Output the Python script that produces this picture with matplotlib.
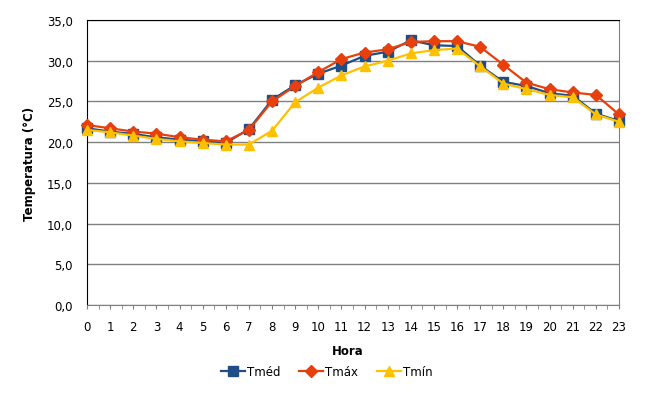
import matplotlib
matplotlib.use('Agg')
import matplotlib.pyplot as plt
from matplotlib.ticker import MultipleLocator, FuncFormatter

horas = list(range(24))
t_med = [21.7, 21.3, 21.0, 20.6, 20.3, 20.1, 19.9, 21.6, 25.2, 27.0, 28.4, 29.4,
         30.6, 31.1, 32.5, 31.9, 31.8, 29.4, 27.4, 26.9, 26.0, 25.7, 23.5, 22.6]
t_max = [22.1, 21.7, 21.3, 21.05, 20.6, 20.3, 20.1, 21.5, 25.0, 26.9, 28.6, 30.2,
         31.0, 31.4, 32.3, 32.4, 32.4, 31.7, 29.5, 27.3, 26.5, 26.1, 25.8, 23.4]
t_min = [21.5, 21.2, 20.8, 20.4, 20.1, 19.9, 19.7, 19.7, 21.4, 24.9, 26.7, 28.2,
         29.3, 30.0, 30.9, 31.3, 31.5, 29.3, 27.2, 26.5, 25.8, 25.5, 23.4, 22.5]

fig = plt.figure(figsize=(6.64, 4.02), dpi=100)
fig.patch.set_facecolor('white')
ax = fig.add_axes([87 / 664, (402 - 306) / 402, (619 - 87) / 664, (306 - 21) / 402])

ax.plot(horas, t_med, color='#1f4e87', marker='s', markersize=6.5, linewidth=1.6, label='Tméd', clip_on=False, zorder=3)
ax.plot(horas, t_max, color='#e8400c', marker='D', markersize=6, linewidth=1.6, label='Tmáx', clip_on=False, zorder=4)
ax.plot(horas, t_min, color='#ffc000', marker='^', markersize=7, linewidth=1.6, label='Tmín', clip_on=False, zorder=5)

ax.set_xlim(0, 23)
ax.set_ylim(0, 35)
ax.set_xticks(horas)
ax.xaxis.set_minor_locator(MultipleLocator(0.5))
ax.yaxis.set_major_locator(MultipleLocator(5))
ax.yaxis.set_major_formatter(FuncFormatter(lambda v, p: f'{v:.1f}'.replace('.', ',')))
ax.tick_params(axis='x', which='both', direction='out', length=3, color='#808080', labelsize=8.5, pad=8)
ax.tick_params(axis='y', length=0, labelsize=8.5, pad=10)
ax.grid(axis='y', color='#808080', linewidth=1)
ax.set_axisbelow(True)

ax.spines['left'].set_color('black')
ax.spines['top'].set_color('black')
ax.spines['right'].set_color('#808080')
ax.spines['bottom'].set_color('#808080')

ax.set_ylabel('Temperatura (°C)', fontsize=8.5, fontweight='bold', labelpad=8)
fig.text(348 / 664, 1 - 352 / 402, 'Hora', ha='center', va='center', fontsize=8.5, fontweight='bold')
fig.legend(loc='center', bbox_to_anchor=(327 / 664, 1 - 373 / 402), ncol=3, frameon=False,
           fontsize=8.5, handlelength=2.0, handletextpad=0.2, columnspacing=1.6)

fig.savefig('out.png', dpi=100, facecolor='white')
